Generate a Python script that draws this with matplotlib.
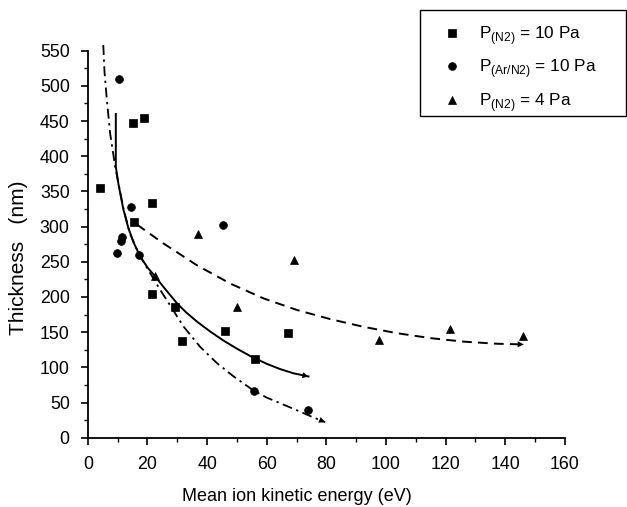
import matplotlib
matplotlib.use("Agg")
import matplotlib.pyplot as plt
from matplotlib.patches import Rectangle
from matplotlib.ticker import MultipleLocator

plt.rcParams["font.family"] = ["Liberation Sans", "DejaVu Sans"]
plt.rcParams["mathtext.fontset"] = "custom"
plt.rcParams["mathtext.rm"] = "Liberation Sans"

# ---- measured points ----
sq_x = [4.0, 15.3, 18.9, 21.5, 15.6, 21.6, 29.2, 31.6, 46.1, 56.2, 67.2]
sq_y = [355, 447, 454, 334, 306, 204, 186, 138, 152, 112, 149]

ci_x = [10.6, 14.4, 11.4, 11.1, 9.7, 17.3, 45.3, 55.8, 74.0]
ci_y = [509, 328, 285, 280, 263, 259, 302, 67, 40]

tr_x = [22.6, 36.9, 50.0, 69.0, 97.5, 121.5, 146.1]
tr_y = [230, 290, 186, 253, 139, 154, 145]

# ---- fit curves ----
solid_x = [9.4, 9.4, 10.3, 11.9, 13.6, 15.3, 17.5, 20.0, 22.6, 26.0, 29.9, 33.0,
           36.6, 41.0, 45.5, 50.0, 54.5, 60.0, 64.5, 69.0, 74.0]
solid_y = [460, 385, 360, 325, 298, 278, 258, 242, 229, 211, 191, 178,
           165, 151, 138, 126.5, 116, 105, 97.5, 91.5, 87]

dashdot_x = [5.2, 5.6, 6.4, 7.5, 9.2, 10.3, 12.0, 14.0, 17.0, 19.5, 22.6, 24.3,
             28.2, 32.1, 37.7, 43.3, 48.9, 55.6, 60.0, 64.5, 70.1, 75.0, 79.6]
dashdot_y = [558, 520, 480, 432, 385, 361, 325, 292, 262, 244, 222, 210,
             184, 158, 129, 106, 87, 67, 57, 49, 39, 30, 22]

dashed_x = [16.5, 18.1, 25.4, 36.6, 47.8, 58.9, 70.1, 81.3, 92.5, 103.7,
            114.9, 126.0, 137.2, 146.2]
dashed_y = [303, 298, 276, 245, 219, 198, 181.5, 168.5, 157.5, 148.5,
            141.5, 136.5, 133.5, 132.5]

fig = plt.figure(figsize=(6.27, 5.07), dpi=100)
ax = fig.add_axes([0.14, 0.1367, 0.761, 0.7773])

ms = 5.3
ax.plot(sq_x, sq_y, "ks", ms=ms, mew=0.5, ls="none", label=r"P$_{\mathregular{(N2)}}$ = 10 Pa")
ax.plot(ci_x, ci_y, "ko", ms=ms + 0.3, mew=0.5, ls="none", label=r"P$_{\mathregular{(Ar/N2)}}$ = 10 Pa")
ax.plot(tr_x, tr_y, "k^", ms=ms + 0.6, mew=0.5, ls="none", label=r"P$_{\mathregular{(N2)}}$ = 4 Pa")

ax.plot(solid_x, solid_y, "k-", lw=1.4)
ax.plot(dashdot_x, dashdot_y, color="k", lw=1.3, ls=(0, (5.5, 2.5, 1.3, 2.5)), clip_on=False)
ax.plot(dashed_x, dashed_y, color="k", lw=1.4, ls=(0, (5, 3.2)))

# arrow heads at the end of each curve
for xs, ys in [(solid_x, solid_y), (dashdot_x, dashdot_y), (dashed_x, dashed_y)]:
    ax.annotate("", xy=(xs[-1], ys[-1]), xytext=(xs[-2], ys[-2]),
                arrowprops=dict(arrowstyle="-|>", color="k", lw=0, mutation_scale=11,
                                shrinkA=0, shrinkB=0))

ax.set_xlim(0, 160)
ax.set_ylim(0, 560)
ax.spines["top"].set_visible(False)
ax.spines["right"].set_visible(False)
ax.spines["left"].set_bounds(0, 550)
ax.spines["left"].set_linewidth(1.3)
ax.spines["bottom"].set_linewidth(1.3)

ax.xaxis.set_major_locator(MultipleLocator(20))
ax.xaxis.set_minor_locator(MultipleLocator(10))
ax.set_yticks(range(0, 551, 50))
ax.set_yticks(range(25, 551, 50), minor=True)
ax.tick_params(which="major", direction="out", length=5, width=1.2, labelsize=12.8, pad=8)
ax.tick_params(which="minor", direction="out", length=3.2, width=1.0)

ax.set_xlabel("Mean ion kinetic energy (eV)", fontsize=13)
ax.xaxis.set_label_coords(0.439, -0.128)
ax.set_ylabel("Thickness   (nm)", fontsize=15)
ax.yaxis.set_label_coords(-0.125, 0.457)

leg = ax.legend(loc="upper left", bbox_to_anchor=(0.707, 0.953), bbox_transform=fig.transFigure,
                fontsize=12.4, frameon=False, handlelength=1.0, handletextpad=1.1,
                borderpad=0, labelspacing=0.62, borderaxespad=0)
# legend frame
fig.patches.append(Rectangle((420 / 627, 1 - 116 / 507), 206 / 627, 106 / 507,
                             transform=fig.transFigure, fill=False, ec="k", lw=1.0))

fig.savefig("out.png", dpi=100)
